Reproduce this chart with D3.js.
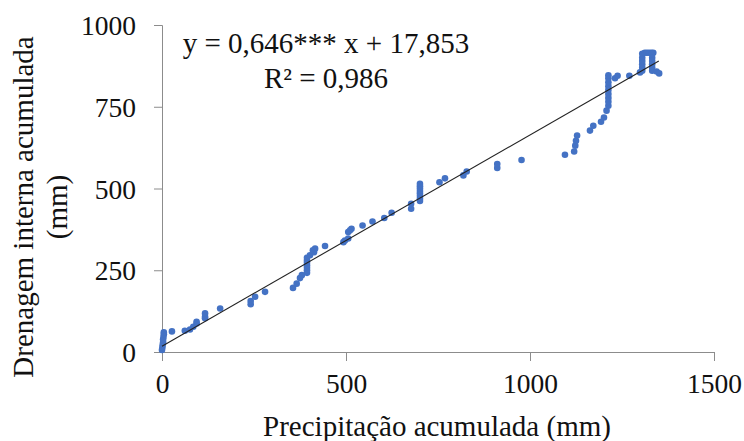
<!DOCTYPE html>
<html>
<head>
<meta charset="utf-8">
<script src="https://cdn.jsdelivr.net/npm/d3@7"></script>
</head>
<body style="margin:0; background:#fff">
<svg></svg>
<script>
// accumulated precipitation (mm) vs accumulated internal drainage (mm)
const precip = [
  0, 1, 2, 3, 3, 4, 5, 5,
  27, 62, 76, 85, 94, 94, 117, 117, 117, 158,
  241, 241, 253, 280,
  356, 366, 375, 380,
  394, 394, 394, 394, 394, 394, 394, 402, 410, 413, 416, 443,
  493, 497, 506, 506, 511, 515,
  545, 572, 604, 624, 677, 677,
  701, 701, 701, 701, 701, 701, 701, 701,
  754, 769, 819, 828, 911, 911, 977,
  1095, 1120, 1123, 1125, 1128, 1163, 1172, 1193, 1201, 1208,
  1213, 1213, 1213, 1213, 1213, 1213, 1213, 1213, 1213,
  1231, 1238, 1270, 1299,
  1305, 1305, 1305, 1305, 1305, 1305,
  1312, 1318, 1324, 1330, 1335,
  1332, 1332, 1332, 1332, 1332, 1332,
  1344, 1351
];
const drainage = [
  6, 14, 22, 30, 38, 46, 54, 60,
  63, 65, 69, 77, 87, 92, 103, 108, 118, 133,
  146, 156, 169, 184,
  196, 209, 226, 235,
  242, 250, 258, 265, 273, 280, 288, 296, 311, 305, 316, 324,
  336, 341, 347, 367, 372, 377,
  387, 399, 410, 426, 438, 453,
  462, 469, 477, 485, 492, 500, 507, 514,
  519, 531, 540, 552, 563, 575, 587,
  603, 613, 631, 646, 662, 677, 692, 704, 717, 738,
  753, 765, 777, 789, 801, 813, 825, 837, 846,
  837, 845, 845, 855,
  860, 870, 880, 890, 900, 912,
  915, 915, 915, 915, 915,
  912, 900, 890, 880, 870, 860,
  858, 852
];
const slope = 0.646;
const intercept = 17.853;
const fitRange = [0, 1350];
const xTicks = [0, 500, 1000, 1500];
const yTicks = [0, 250, 500, 750, 1000];

const width = 744;
const height = 441;
const margin = { top: 25, right: 30, bottom: 89, left: 162 };
const axisColor = "#8c8c8c";
const serif = '"Liberation Serif"';

const svg = d3.select("svg").attr("width", width).attr("height", height);

const x = d3.scaleLinear().domain([0, 1500]).range([margin.left, margin.left + 552]);
const y = d3.scaleLinear().domain([0, 1000]).range([height - margin.bottom, margin.top]);

// axes
const xAxis = svg.append("g")
  .attr("transform", `translate(0, ${y(0)})`)
  .call(d3.axisBottom(x).tickValues(xTicks).tickSize(9).tickPadding(12).tickFormat(d3.format("d")));

const yAxis = svg.append("g")
  .attr("transform", `translate(${x(0)}, 0)`)
  .call(d3.axisLeft(y).tickValues(yTicks).tickSize(8).tickPadding(18).tickFormat(d3.format("d")));

[xAxis, yAxis].forEach((g) => {
  g.attr("font-family", null).attr("font-size", null);
  g.select(".domain").attr("stroke", axisColor);
  g.selectAll(".tick line").attr("stroke", axisColor);
  g.selectAll(".tick text").attr("fill", "#111").style("font-size", "27.5px");
});
yAxis.selectAll(".tick text").attr("dy", "0.35em");

// points
const points = precip.map((p, i) => ({ p, d: drainage[i] }));

svg.append("g")
  .selectAll("circle")
  .data(points)
  .enter()
  .append("circle")
  .attr("cx", (d) => x(d.p))
  .attr("cy", (d) => y(d.d))
  .attr("r", 3.3)
  .attr("fill", "#4472c4");

// fitted line
svg.append("line")
  .attr("x1", x(fitRange[0]))
  .attr("y1", y(slope * fitRange[0] + intercept))
  .attr("x2", x(fitRange[1]))
  .attr("y2", y(slope * fitRange[1] + intercept))
  .attr("stroke", "#222")
  .attr("stroke-width", 1.1);

// equation
const eq = svg.append("g").attr("fill", "#111").attr("text-anchor", "middle");
eq.append("text").attr("x", 326).attr("y", 53).style("font-size", "29px").text("y = 0,646*** x + 17,853");
eq.append("text").attr("x", 326).attr("y", 88).style("font-size", "29px").text("R² = 0,986");

// axis titles
svg.append("text")
  .attr("x", 437)
  .attr("y", 436)
  .attr("text-anchor", "middle")
  .attr("fill", "#111")
  .style("font-size", "29px")
  .text("Precipitação acumulada (mm)");

const yTitle = svg.append("text")
  .attr("transform", "translate(33, 207) rotate(-90)")
  .attr("text-anchor", "middle")
  .attr("fill", "#111")
  .style("font-size", "29px");
yTitle.append("tspan").attr("x", 0).attr("y", 0).text("Drenagem interna acumulada");
yTitle.append("tspan").attr("x", 0).attr("y", 34).text("(mm)");

svg.selectAll("text").style("font-family", serif);
</script>
</body>
</html>
